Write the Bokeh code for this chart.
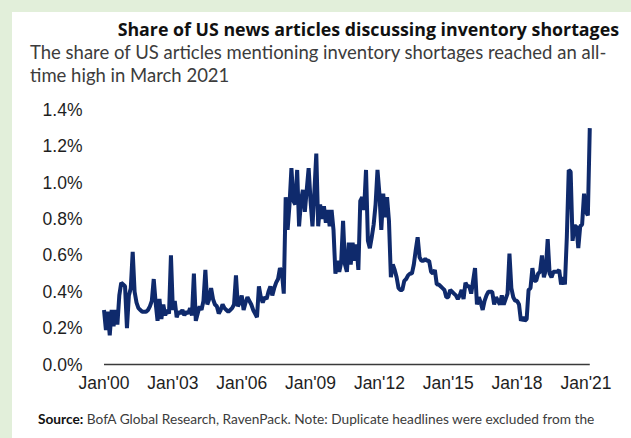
from bokeh.plotting import figure
from bokeh.models import FixedTicker, Range1d, Div
from bokeh.layouts import column
from bokeh.embed import file_html
from bokeh.resources import INLINE

# Monthly share of US news articles discussing inventory shortages (%), Jan 2000 - Mar 2021
v2000 = [0.30, 0.19, 0.29, 0.16, 0.30, 0.21, 0.30, 0.22, 0.38, 0.45, 0.44, 0.43]
v2001 = [0.20, 0.38, 0.42, 0.62, 0.40, 0.34, 0.31, 0.30, 0.29, 0.29, 0.29, 0.30]
v2002 = [0.32, 0.35, 0.47, 0.34, 0.24, 0.36, 0.25, 0.33, 0.27, 0.30, 0.28, 0.60]
v2003 = [0.30, 0.35, 0.26, 0.29, 0.28, 0.30, 0.27, 0.29, 0.28, 0.31, 0.27, 0.50]
v2004 = [0.24, 0.28, 0.32, 0.30, 0.35, 0.52, 0.33, 0.36, 0.42, 0.36, 0.33, 0.32]
v2005 = [0.28, 0.30, 0.33, 0.31, 0.30, 0.29, 0.30, 0.31, 0.33, 0.49, 0.32, 0.34]
v2006 = [0.38, 0.30, 0.34, 0.37, 0.35, 0.33, 0.30, 0.28, 0.26, 0.43, 0.37, 0.34]
v2007 = [0.37, 0.36, 0.40, 0.43, 0.38, 0.42, 0.45, 0.47, 0.53, 0.51, 0.39, 0.92]
v2008 = [0.74, 0.88, 1.08, 0.90, 0.88, 1.07, 0.76, 0.90, 0.96, 0.84, 0.96, 1.08]
v2009 = [0.90, 0.76, 0.95, 1.16, 0.76, 0.88, 0.80, 0.87, 0.78, 0.85, 0.76, 0.85]
v2010 = [0.74, 0.50, 0.57, 0.51, 0.56, 0.79, 0.55, 0.51, 0.67, 0.55, 0.67, 0.57]
v2011 = [0.66, 0.52, 0.90, 0.92, 0.85, 1.07, 0.68, 0.64, 0.70, 0.77, 0.88, 1.07]
v2012 = [0.94, 0.74, 0.94, 0.81, 0.92, 0.79, 0.48, 0.55, 0.52, 0.48, 0.42, 0.41]
v2013 = [0.41, 0.46, 0.47, 0.49, 0.50, 0.50, 0.55, 0.63, 0.70, 0.59, 0.57, 0.57]
v2014 = [0.58, 0.57, 0.57, 0.51, 0.50, 0.52, 0.44, 0.44, 0.43, 0.42, 0.41, 0.37]
v2015 = [0.37, 0.41, 0.40, 0.39, 0.38, 0.36, 0.38, 0.41, 0.36, 0.45, 0.43, 0.43]
v2016 = [0.39, 0.46, 0.53, 0.33, 0.37, 0.34, 0.30, 0.35, 0.38, 0.40, 0.40, 0.40]
v2017 = [0.33, 0.37, 0.35, 0.33, 0.38, 0.33, 0.36, 0.39, 0.61, 0.42, 0.37, 0.35]
v2018 = [0.35, 0.33, 0.24, 0.26, 0.24, 0.25, 0.41, 0.42, 0.53, 0.46, 0.46, 0.50]
v2019 = [0.51, 0.60, 0.48, 0.52, 0.69, 0.50, 0.48, 0.51, 0.51, 0.51, 0.52, 0.44]
v2020 = [0.48, 0.44, 0.70, 1.07, 1.06, 0.68, 0.76, 0.76, 0.64, 0.76, 0.77, 0.94]
v2021 = [0.84, 0.82, 1.30]

values = (v2000 + v2001 + v2002 + v2003 + v2004 + v2005 + v2006 + v2007 + v2008 + v2009 + v2010
          + v2011 + v2012 + v2013 + v2014 + v2015 + v2016 + v2017 + v2018 + v2019 + v2020 + v2021)
start_year = 2000
years = [start_year + i / 12 for i in range(len(values))]

x_tick_years = [2000, 2003, 2006, 2009, 2012, 2015, 2018, 2021]
x_tick_labels = ["Jan'00", "Jan'03", "Jan'06", "Jan'09", "Jan'12", "Jan'15", "Jan'18", "Jan'21"]
y_ticks = [0.0, 0.2, 0.4, 0.6, 0.8, 1.0, 1.2, 1.4]
y_tick_labels = ["0.0%", "0.2%", "0.4%", "0.6%", "0.8%", "1.0%", "1.2%", "1.4%"]

title_text = "Share of US news articles discussing inventory shortages"
subtitle_1 = "The share of US articles mentioning inventory shortages reached an all-"
subtitle_2 = "time high in March 2021"
source_bold = "Source:"
source_rest = "BofA Global Research, RavenPack. Note: Duplicate headlines were excluded from the"

PANEL_W = 619
HEAD_H, FIG_H, FOOT_H = 78, 314, 34

p = figure(width=PANEL_W, height=FIG_H, output_backend="svg", toolbar_location=None,
           x_range=Range1d(1999.76, 2021.634), y_range=Range1d(-0.044, 1.452),
           min_border_left=86, min_border_right=31, min_border_top=10, min_border_bottom=32,
           background_fill_color="white", border_fill_color="white", margin=(0, 0, 0, 0))
p.outline_line_color = None
p.xgrid.visible = False
p.ygrid.visible = False

tick_font = "Liberation Sans"
p.xaxis.ticker = FixedTicker(ticks=x_tick_years)
p.xaxis.major_label_overrides = {t: l for t, l in zip(x_tick_years, x_tick_labels)}
p.yaxis.ticker = FixedTicker(ticks=y_ticks)
p.yaxis.major_label_overrides = {t: l for t, l in zip(y_ticks, y_tick_labels)}
for ax in (p.xaxis, p.yaxis):
    ax.axis_line_color = None
    ax.major_tick_line_color = None
    ax.minor_tick_line_color = None
    ax.major_label_text_font = tick_font
    ax.major_label_text_font_size = "17.5px"
    ax.major_label_text_color = "#1e1e1e"
p.yaxis.major_label_standoff = 10
p.xaxis.major_label_standoff = -6

# zero baseline and series
p.line(x=[years[0], years[-1]], y=[0, 0], line_color="#3a3a3a", line_width=1.6)
p.line(x=years, y=values, line_color="#0f2a6c", line_width=4)

abs_style = "position:absolute; white-space:nowrap; line-height:1;"
head_html = (
    f'<div style="position:relative; width:{PANEL_W}px; height:{HEAD_H}px;">'
    f'<div style="{abs_style} right:12px; top:9px; font-family:\'Open Sans\'; font-size:17.8px; '
    f'font-weight:bold; color:#111;">{title_text}</div>'
    f'<div style="{abs_style} left:18px; top:31.2px; font-family:Lato; font-size:18.5px; color:#3c3c3c;">{subtitle_1}</div>'
    f'<div style="{abs_style} left:18px; top:54.2px; font-family:Lato; font-size:18.5px; color:#3c3c3c;">{subtitle_2}</div>'
    '</div>'
)
foot_html = (
    f'<div style="position:relative; width:{PANEL_W}px; height:{FOOT_H}px;">'
    f'<div style="{abs_style} left:26px; top:8px; font-family:Lato; font-size:13.7px; color:#3c3c3c;">'
    f'<b style="color:#111;">{source_bold}</b> {source_rest}</div>'
    '</div>'
)
head = Div(text=head_html, width=PANEL_W, height=HEAD_H, margin=(0, 0, 0, 0))
foot = Div(text=foot_html, width=PANEL_W, height=FOOT_H, margin=(0, 0, 0, 0))

panel = column(head, p, foot, spacing=0, margin=(12, 0, 0, 12),
               styles={"background-color": "white"})
layout = column(panel, styles={"background-color": "#e2efda"})
open("out.html", "w").write(file_html(layout, INLINE))
